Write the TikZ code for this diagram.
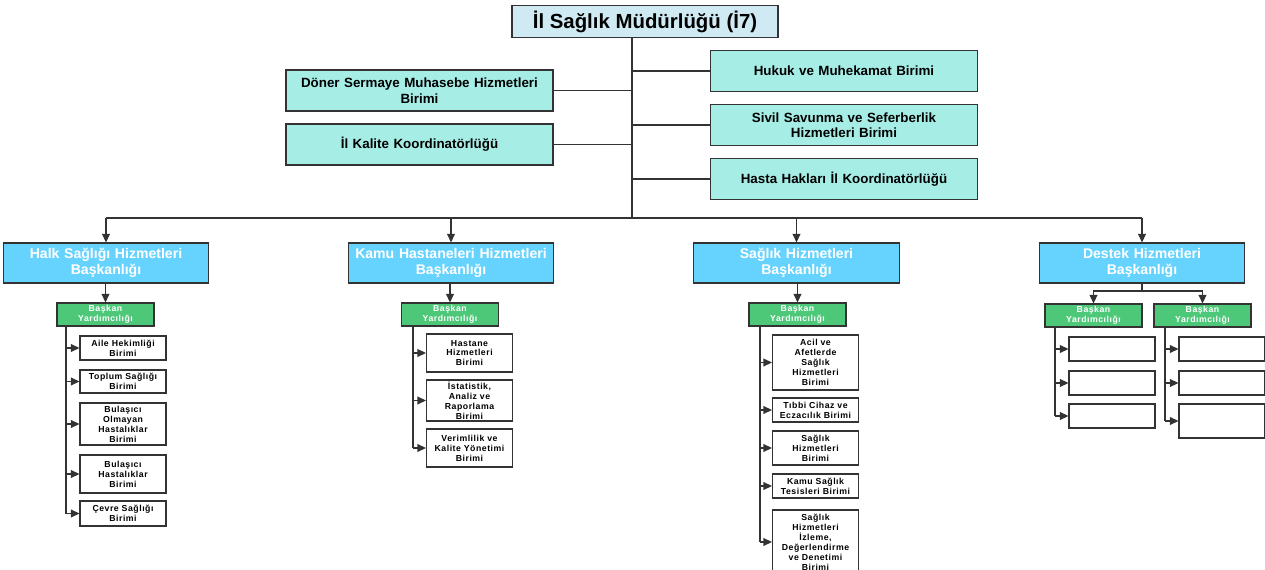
\documentclass[tikz,border=0pt]{standalone}
\usepackage{fontspec}
\setmainfont{Liberation Sans}
\usetikzlibrary{arrows.meta}
\usepackage{xcolor}

\definecolor{headblue}{HTML}{CFEAF2}
\definecolor{unitaqua}{HTML}{A6EDE6}
\definecolor{deptblue}{HTML}{66D3FE}
\definecolor{vicegreen}{HTML}{4DC879}
\definecolor{edge}{HTML}{333333}

\tikzset{
  box/.style={draw=edge, line width=0.8pt, align=center},
  head/.style={box, fill=headblue, minimum width=6.65cm, minimum height=0.775cm, font=\fontsize{14.5}{16}\selectfont\bfseries},
  unit/.style={box, fill=unitaqua, minimum width=6.675cm, minimum height=1.025cm, text width=6.4cm, font=\fontsize{9.5}{11}\selectfont\bfseries},
  dept/.style={box, fill=deptblue, text=white, minimum width=5.05cm, minimum height=1cm, text width=4.9cm, font=\fontsize{10}{11.5}\selectfont\bfseries},
  vice/.style={box, fill=vicegreen, text=white, minimum width=2.425cm, minimum height=0.575cm, inner sep=0.5pt, font=\fontsize{6.2}{7.2}\selectfont\bfseries\addfontfeature{LetterSpace=6}},
  sub/.style={box, fill=white, minimum width=2.15cm, text width=2.1cm, inner sep=0.5pt, font=\fontsize{6.2}{7.1}\selectfont\bfseries\addfontfeature{LetterSpace=6}},
  link/.style={draw=edge, line width=1pt},
  >={Triangle[length=6pt,width=5.5pt]}
}

\begin{document}
\begin{tikzpicture}[x=0.025cm, y=-0.025cm]

    \useasboundingbox (0,0) rectangle (1265,570);

    \node[head] (ilsm) at (645,21.5) {İl Sağlık Müdürlüğü (İ7)};

    \node[unit] (doner) at (419.5,90.5) {Döner Sermaye Muhasebe Hizmetleri\\Birimi};
    \node[unit] (kalite) at (419.5,144.5) {İl Kalite Koordinatörlüğü};

    \node[unit] (hukuk) at (844,71) {Hukuk ve Muhekamat Birimi};
    \node[unit] (sivil) at (844,125) {Sivil Savunma ve Seferberlik\\Hizmetleri Birimi};
    \node[unit] (hasta) at (844,179) {Hasta Hakları İl Koordinatörlüğü};

    \node[dept] (halk) at (106,263) {Halk Sağlığı Hizmetleri\\Başkanlığı};
    \node[dept] (kamu) at (451,263) {Kamu Hastaneleri Hizmetleri\\Başkanlığı};
    \node[dept] (saglik) at (796.5,263) {Sağlık Hizmetleri\\Başkanlığı};
    \node[dept] (destek) at (1142,263) {Destek Hizmetleri\\Başkanlığı};

    \node[vice] (halkby) at (105.5,314.5) {Başkan\\Yardımcılığı};
    \node[vice] (kamuby) at (450,314.5) {Başkan\\Yardımcılığı};
    \node[vice] (saglikby) at (797.5,314.5) {Başkan\\Yardımcılığı};
    \node[vice] (destekbya) at (1093.5,315.5) {Başkan\\Yardımcılığı};
    \node[vice] (destekbyb) at (1202.5,315.5) {Başkan\\Yardımcılığı};

    % halk sagligi birimleri
    \node[sub, minimum height=0.6cm] (aile) at (123,348) {Aile Hekimliği\\Birimi};
    \node[sub, minimum height=0.575cm] (toplum) at (123,381.5) {Toplum Sağlığı\\Birimi};
    \node[sub, minimum height=1.05cm] (bolm) at (123,424) {Bulaşıcı\\Olmayan\\Hastalıklar\\Birimi};
    \node[sub, minimum height=0.95cm] (bulas) at (123,474) {Bulaşıcı\\Hastalıklar\\Birimi};
    \node[sub, minimum height=0.625cm] (cevre) at (123,513.5) {Çevre Sağlığı\\Birimi};

    % kamu hastaneleri birimleri
    \node[sub, minimum height=0.95cm] (hastane) at (469.5,353) {Hastane\\Hizmetleri\\Birimi};
    \node[sub, minimum height=1.025cm] (istat) at (469.5,400.5) {İstatistik,\\Analiz ve\\Raporlama\\Birimi};
    \node[sub, minimum height=0.95cm] (verim) at (469.5,448) {Verimlilik ve\\Kalite Yönetimi\\Birimi};

    % saglik hizmetleri birimleri
    \node[sub, minimum height=1.375cm] (acil) at (815.5,362.5) {Acil ve\\Afetlerde\\Sağlık\\Hizmetleri\\Birimi};
    \node[sub, minimum height=0.6cm] (tibbi) at (815.5,410) {Tıbbi Cihaz ve\\Eczacılık Birimi};
    \node[sub, minimum height=0.85cm] (shb) at (815.5,448) {Sağlık\\Hizmetleri\\Birimi};
    \node[sub, minimum height=0.6cm] (tesis) at (815.5,486) {Kamu Sağlık\\Tesisleri Birimi};
    \node[sub, minimum height=1.6cm] (izleme) at (815.5,542) {Sağlık\\Hizmetleri\\İzleme,\\Değerlendirme\\ve Denetimi\\Birimi};

    % destek hizmetleri (bos kutular)
    \node[sub, minimum height=0.6cm] (da1) at (1112,349) {};
    \node[sub, minimum height=0.6cm] (da2) at (1112,383) {};
    \node[sub, minimum height=0.6cm] (da3) at (1112,416) {};
    \node[sub, minimum height=0.6cm] (db1) at (1222,349) {};
    \node[sub, minimum height=0.6cm] (db2) at (1222,383) {};
    \node[sub, minimum height=0.85cm] (db3) at (1222,421) {};

    \coordinate (trunk) at (632,218);
    \draw[link] (ilsm.south -| trunk) -- (trunk);
    \draw[link] (doner.east) -- (doner.east -| trunk);
    \draw[link] (kalite.east) -- (kalite.east -| trunk);
    \draw[link] (hukuk.west) -- (hukuk.west -| trunk);
    \draw[link] (sivil.west) -- (sivil.west -| trunk);
    \draw[link] (hasta.west) -- (hasta.west -| trunk);

    \draw[link] (halk.north |- trunk) -- (destek.north |- trunk);
    \foreach \d in {halk,kamu,saglik,destek}
      \draw[link,->] (\d.north |- trunk) -- (\d.north);

    \draw[link,->] (halk.south) -- (halk.south -| halkby.north) -- (halkby.north);
    \draw[link,->] (kamu.south -| kamuby.north) -- (kamuby.north);
    \draw[link,->] (saglik.south -| saglikby.north) -- (saglikby.north);

    \coordinate (dfork) at (1142,291);
    \draw[link] (destek.south) -- (dfork);
    \draw[link,->] (dfork) -| (destekbya.north);
    \draw[link,->] (dfork) -| (destekbyb.north);

    \coordinate (halkt) at (66,326);
    \draw[link] (halkt) -- (halkt |- cevre.west);
    \foreach \s in {aile,toplum,bolm,bulas,cevre}
      \draw[link,->] (halkt |- \s.west) -- (\s.west);

    \coordinate (kamut) at (413,326);
    \draw[link] (kamut) -- (kamut |- verim.west);
    \foreach \s in {hastane,istat,verim}
      \draw[link,->] (kamut |- \s.west) -- (\s.west);

    \coordinate (saglikt) at (760,326);
    \draw[link] (saglikt) -- (saglikt |- izleme.west);
    \foreach \s in {acil,tibbi,shb,tesis,izleme}
      \draw[link,->] (saglikt |- \s.west) -- (\s.west);

    \coordinate (dat) at (1055,327);
    \draw[link] (dat) -- (dat |- da3.west);
    \foreach \s in {da1,da2,da3}
      \draw[link,->] (dat |- \s.west) -- (\s.west);

    \coordinate (dbt) at (1165,327);
    \draw[link] (dbt) -- (dbt |- db3.west);
    \foreach \s in {db1,db2,db3}
      \draw[link,->] (dbt |- \s.west) -- (\s.west);

\end{tikzpicture}
\end{document}
